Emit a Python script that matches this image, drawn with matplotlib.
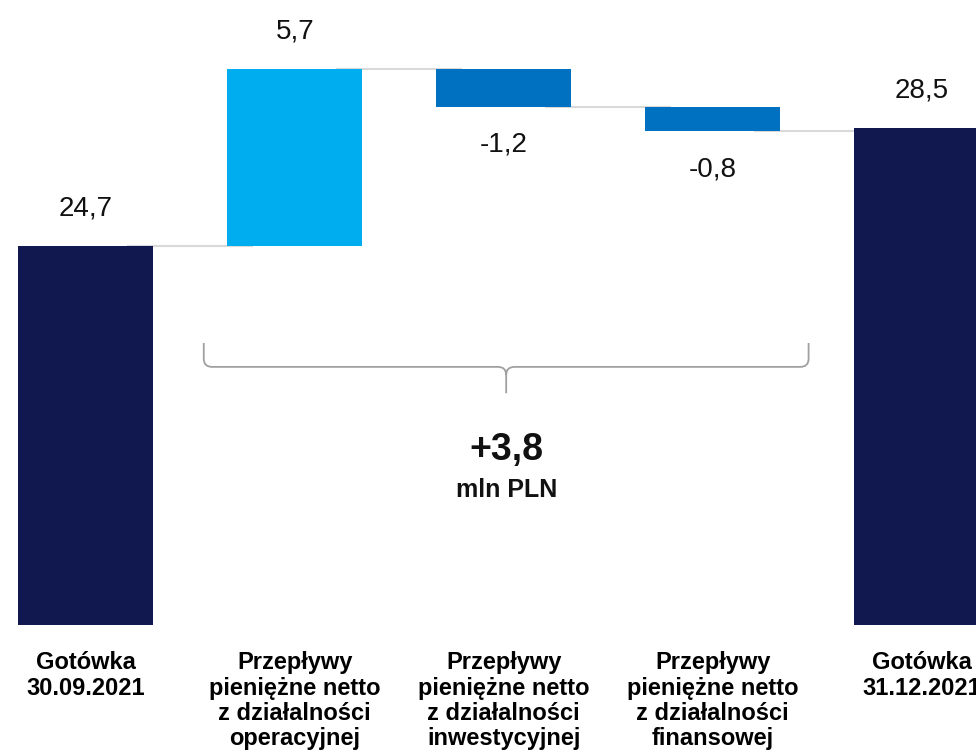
import matplotlib.pyplot as plt
from matplotlib.path import Path
from matplotlib.patches import PathPatch

plt.rcParams['font.family'] = ['Liberation Sans', 'DejaVu Sans']

# cash bridge, mln PLN
categories = [
    "Gotówka\n30.09.2021",
    "Przepływy\npieniężne netto\nz działalności\noperacyjnej",
    "Przepływy\npieniężne netto\nz działalności\ninwestycyjnej",
    "Przepływy\npieniężne netto\nz działalności\nfinansowej",
    "Gotówka\n31.12.2021",
]
cash_start = 24.7
flows = [5.7, -1.2, -0.8]
cash_end = 28.5
unit_label = "mln PLN"

NAVY = "#10184f"
LIGHT_BLUE = "#00aeef"
MID_BLUE = "#0070c0"
CONNECTOR = "#d9d9d9"
BRACE = "#a0a0a0"


def fmt(v, sign=False):
    s = f"{v:+.1f}" if sign else f"{v:.1f}"
    return s.replace(".", ",")


fig = plt.figure(figsize=(9.76, 7.56), dpi=100)
ax = fig.add_axes([0, 131 / 756, 1, 625 / 756])
ax.set_xlim(-0.41, 4.26)
ax.set_ylim(12.47, 32.64)
ax.axis("off")

width = 0.646
xs = list(range(len(categories)))

# bar geometry for the waterfall
bottoms = [0]
heights = [cash_start]
colors = [NAVY]
level = cash_start
for f in flows:
    bottoms.append(min(level, level + f))
    heights.append(abs(f))
    colors.append(LIGHT_BLUE if f > 0 else MID_BLUE)
    level += f
bottoms.append(0)
heights.append(cash_end)
colors.append(NAVY)

ax.bar(xs, heights, width=width, bottom=bottoms, color=colors, zorder=3)

# connectors between neighbouring bars
levels = [cash_start]
level = cash_start
for f in flows:
    level += f
    levels.append(level)
for i, lv in enumerate(levels):
    ax.plot([xs[i] + 0.2, xs[i + 1] - 0.2], [lv, lv], color=CONNECTOR,
            lw=1.5, zorder=2, solid_capstyle="butt")

# value labels
values = [cash_start] + flows + [cash_end]
for i, v in enumerate(values):
    top = bottoms[i] + heights[i]
    if i in (0, len(values) - 1) or v > 0:
        ax.annotate(fmt(v), (xs[i], top), xytext=(0, 18), textcoords="offset points",
                    ha="center", va="bottom", fontsize=20, color="#111111")
    else:
        ax.annotate(fmt(v), (xs[i], bottoms[i]), xytext=(0, -18), textcoords="offset points",
                    ha="center", va="top", fontsize=20, color="#111111")

# category labels under the bars
for x, name in zip(xs, categories):
    ax.annotate(name, (x, 0), xycoords=("data", "axes fraction"), xytext=(0, -19),
                textcoords="offset points", ha="center", va="top", fontsize=17,
                fontweight="bold", linespacing=1.13, annotation_clip=False)

# brace spanning the three cash flows
x0, x1 = 0.565, 3.459
xm = (x0 + x1) / 2
y_top, y_h, y_tip = 21.57, 20.80, 19.95
rx, ry = 0.04, 0.26
verts = [
    (x0, y_top), (x0, y_h + ry), (x0, y_h), (x0 + rx, y_h),
    (xm - rx, y_h), (xm, y_h), (xm, y_h - ry), (xm, y_tip),
    (xm, y_h - ry), (xm, y_h), (xm + rx, y_h),
    (x1 - rx, y_h), (x1, y_h), (x1, y_h + ry), (x1, y_top),
]
codes = [
    Path.MOVETO, Path.LINETO, Path.CURVE3, Path.CURVE3,
    Path.LINETO, Path.CURVE3, Path.CURVE3, Path.LINETO,
    Path.MOVETO, Path.CURVE3, Path.CURVE3,
    Path.LINETO, Path.CURVE3, Path.CURVE3, Path.LINETO,
]
ax.add_patch(PathPatch(Path(verts, codes), fill=False, edgecolor=BRACE, lw=1.3))

change = cash_end - cash_start
ax.text(xm, 18.12, fmt(change, sign=True), ha="center", va="center",
        fontsize=27, fontweight="bold", color="#111111")
ax.text(xm, 16.83, unit_label, ha="center", va="center",
        fontsize=18, fontweight="bold", color="#111111")

fig.savefig("out.png", dpi=100)
